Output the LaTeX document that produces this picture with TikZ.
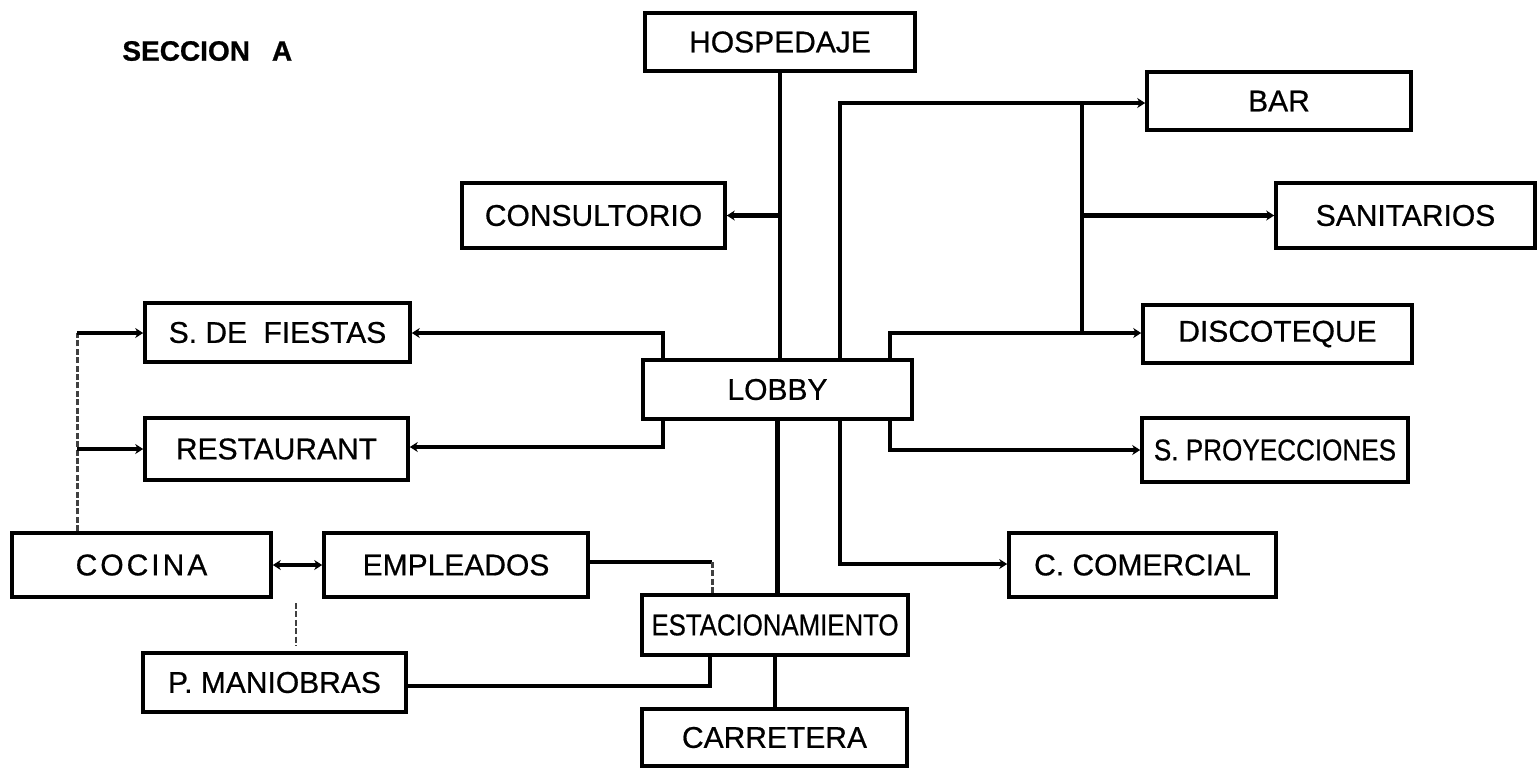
\documentclass[tikz,border=0pt]{standalone}
\usepackage{fontspec}
\setmainfont{Liberation Sans}
\newfontfamily\lblfont{Liberation Sans}[FakeBold=0.6]
\newfontfamily\ttlfont{Liberation Sans Bold}[FakeBold=0.8]
\usepackage{graphicx}
\usetikzlibrary{arrows.meta}
\tikzset{
  box/.style={draw=black, line width=1.8pt, inner sep=0pt, align=center,
    font=\lblfont\fontsize{15}{18}\selectfont},
  conn/.style={draw=black, line width=2.3pt},
  tip/.style={-{Stealth[length=4pt,width=5pt]}},
  faint/.style={draw=black!75, line width=1.5pt, dash pattern=on 3pt off 1.2pt},
  title/.style={font=\ttlfont\fontsize{14}{16}\selectfont, inner sep=0pt}
}
\begin{document}
\begin{tikzpicture}[x=0.5pt,y=-0.5pt]
\useasboundingbox (0,0) rectangle (1538,768);
\fill[white] (0,0) rectangle (1538,768);

% title
\node[title, anchor=west] (sec) at (122,51) {SECCION\hspace{11pt}A};

% boxes
\node[box, minimum width=135pt,   minimum height=29pt]   (hosp)  at (780,42)      {HOSPEDAJE};
\node[box, minimum width=132pt,   minimum height=29pt]   (bar)   at (1279,101)    {BAR};
\node[box, minimum width=131.5pt, minimum height=32.5pt] (cons)  at (593.5,215.5) {CONSULTORIO};
\node[box, minimum width=129.5pt, minimum height=32.5pt] (sani)  at (1405.5,215.5){SANITARIOS};
\node[box, minimum width=132.5pt, minimum height=29.5pt] (fies)  at (277.5,332.5) {S. DE\hspace{4pt} FIESTAS};
\node[box, minimum width=134.5pt, minimum height=29pt]   (disc)  at (1277.5,334)  {DISCOTEQUE};
\node[box, minimum width=134.5pt, minimum height=29.5pt] (lobby) at (777.5,389.5) {LOBBY};
\node[box, minimum width=131.5pt, minimum height=31pt]   (rest)  at (276.5,449)   {RESTAURANT};
\node[box, minimum width=133pt,   minimum height=32pt]   (proy)  at (1275,450)    {\scalebox{0.87}[1]{S. PROYECCIONES}};
\node[box, minimum width=129.5pt, minimum height=32pt]   (coc)   at (141.5,565)   {C\kern1.5pt O\kern1.5pt C\kern1.5pt I\kern1.5pt N\kern1.5pt A};
\node[box, minimum width=132pt,   minimum height=32pt]   (emp)   at (456,565)     {EMPLEADOS};
\node[box, minimum width=133.5pt, minimum height=32pt]   (com)   at (1142.5,565)  {C. COMERCIAL};
\node[box, minimum width=133pt,   minimum height=30pt]   (est)   at (775,625)     {\scalebox{0.86}[1]{ESTACIONAMIENTO}};
\node[box, minimum width=131.5pt, minimum height=29.5pt] (man)   at (274.5,682.5) {P. MANIOBRAS};
\node[box, minimum width=132.5pt, minimum height=28.5pt] (car)   at (774.5,737.5) {CARRETERA};

% junction coordinates
\coordinate (j1)  at (840,103);
\coordinate (j2)  at (1082,103);
\coordinate (j3)  at (1082,333);
\coordinate (j4)  at (890,333);
\coordinate (j5)  at (890,450);
\coordinate (j6)  at (840,564);
\coordinate (j7)  at (663,333);
\coordinate (j8)  at (663,447);
\coordinate (j9)  at (77,333);
\coordinate (j10) at (712,562);
\coordinate (j11) at (710,686);
\coordinate (d1)  at (296,603);
\coordinate (d2)  at (296,646);

% connectors
\draw[conn] (hosp.south) -- (hosp.south |- lobby.north);
\draw[conn, tip] (cons.east -| hosp.south) -- (cons.east);
\draw[conn, tip] (lobby.north -| j1) -- (j1) -- (j1 -| bar.west);
\draw[conn] (j2) -- (j3);
\draw[conn, tip] (j2 |- sani.west) -- (sani.west);
\draw[conn, tip] (lobby.north -| j4) -- (j4) -- (j4 -| disc.west);
\draw[conn, tip] (lobby.south -| j5) -- (j5) -- (j5 -| proy.west);
\draw[conn, tip] (lobby.south -| j6) -- (j6) -- (j6 -| com.west);
\draw[conn] (lobby.south) -- (lobby.south |- est.north);
\draw[conn, tip] (lobby.north -| j7) -- (j7) -- (j7 -| fies.east);
\draw[conn, tip] (lobby.south -| j8) -- (j8) -- (j8 -| rest.east);
\draw[faint] (coc.north -| j9) -- (j9);
\draw[conn, tip] (j9) -- (j9 -| fies.west);
\draw[conn, tip] (j9 |- rest.west) -- (rest.west);
\draw[conn, {Stealth[length=4pt,width=5pt]}-{Stealth[length=4pt,width=5pt]}] (coc.east) -- (emp.west);
\draw[conn] (emp.east |- j10) -- (j10);
\draw[faint] (j10) -- (j10 |- est.north);
\draw[conn] (man.east |- j11) -- (j11) -- (j11 |- est.south);
\draw[conn] (est.south) -- (est.south |- car.north);
\draw[faint, line width=1.2pt] (d1) -- (d2);
\end{tikzpicture}
\end{document}
